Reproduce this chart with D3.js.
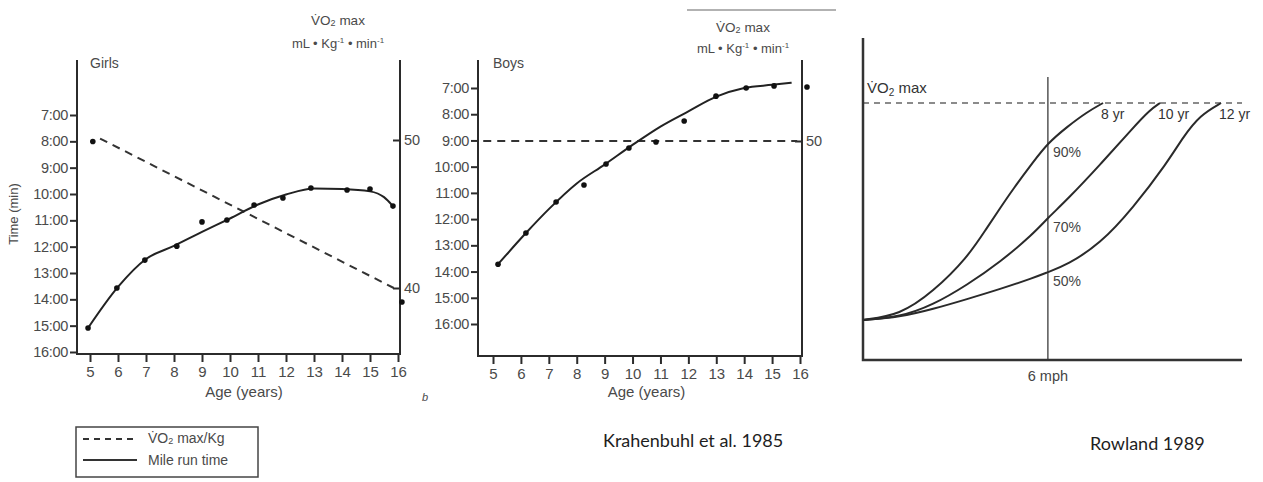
<!DOCTYPE html>
<meta charset="utf-8">
<style>
	body { margin: 0; background: #fff; }
	svg { font-family: "Liberation Sans", Arial, sans-serif; }
	.ax line { stroke: #2b2b2b; stroke-width: 2; }
	.ax text { fill: #4a4a4a; }
	.frame { stroke: #2b2b2b; stroke-width: 2; fill: none; }
	.lab { fill: #4a4a4a; }
	.note { fill: #1e1e1e; font-family: Lato, "Open Sans", sans-serif; font-size: 18px; }
</style>
<body>
<script src="https://d3js.org/d3.v7.min.js"></script>
<script>
// Krahenbuhl et al. 1985 - ages and time ticks
var ages = [5, 6, 7, 8, 9, 10, 11, 12, 13, 14, 15, 16];
var timeTicks = [7, 8, 9, 10, 11, 12, 13, 14, 15, 16];   // minutes

// girls: [age, mile run time in minutes]
var girlsTime = [[4.93, 15.09], [5.96, 13.57], [6.96, 12.51], [8.1, 11.98], [9.0, 11.06], [9.89, 10.99],
	[10.86, 10.42], [11.89, 10.15], [12.89, 9.77], [14.18, 9.85], [15.0, 9.81], [15.82, 10.46]];
var girlsFit = [[4.93, 15.09], [6, 13.53], [7, 12.47], [8, 11.97], [9, 11.44], [10, 10.93],
	[11, 10.4], [12, 10.02], [13, 9.79], [14, 9.81], [15, 9.9], [15.5, 10.12], [15.82, 10.46]];
// girls VO2max/kg (right axis)
var girlsVO2 = [[5.36, 50.1], [15.85, 40.0]];
var girlsVO2Pts = [[5.1, 49.9], [16.14, 39.05]];

// boys
var boysTime = [[5.18, 13.72], [6.18, 12.53], [7.26, 11.35], [8.26, 10.7], [9.05, 9.9], [9.87, 9.29],
	[10.84, 9.06], [11.85, 8.26], [12.99, 7.31], [14.07, 7.0], [15.07, 6.92], [16.25, 6.96]];
var boysFit = [[5.18, 13.72], [6.18, 12.53], [7, 11.62], [8, 10.64], [9, 9.92], [10, 9.17],
	[11, 8.47], [12, 7.89], [13, 7.33], [14, 7.0], [15, 6.88], [15.7, 6.8]];
var boysVO2 = [[4.65, 50], [15.9, 50]];

// Rowland 1989: [speed mph, % of VO2max]
var curve8 = [[0, 15.6], [1.2, 17.5], [2.27, 26.5], [3.38, 39.7], [4.02, 51.4], [4.45, 59.1], [4.87, 66.5],
	[5.52, 77.0], [6.0, 84.4], [6.62, 90.7], [7.27, 96.5], [7.79, 100]];
var curve10 = [[0, 15.6], [1.2, 16.7], [2.27, 21.4], [3.38, 29.2], [4.45, 38.1], [5.52, 49.0], [6.0, 55.3],
	[6.62, 62.3], [7.69, 75.9], [8.76, 90.3], [9.31, 97.3], [9.64, 100]];
var curve12 = [[0, 15.6], [1.2, 16.7], [2.27, 19.8], [3.38, 23.7], [4.45, 27.6], [5.52, 31.9], [6.0, 34.2],
	[6.62, 37.0], [7.69, 45.1], [8.76, 59.1], [9.87, 76.7], [10.39, 86.8], [10.94, 95.3], [11.62, 100]];
var curveNames = ["8 yr", "10 yr", "12 yr"];
var pctNames = ["90%", "70%", "50%"];
var refSpeed = 6;

var W = 1263, H = 482;
var svg = d3.select("body").append("svg").attr("width", W).attr("height", H);

// scan artefact line at top
svg.append("line").attr("x1", 687).attr("x2", 836).attr("y1", 10).attr("y2", 10)
	.attr("stroke", "#999").attr("stroke-width", 1.5);

function vo2Title(g, cx, y1, y2) {
	var t = g.append("text").attr("class", "lab").attr("x", cx).attr("y", y1)
		.attr("text-anchor", "middle").attr("dominant-baseline", "middle").style("font-size", "13.5px");
	t.append("tspan").text("V\u0307O");
	t.append("tspan").attr("dy", 3).style("font-size", "9px").text("2");
	t.append("tspan").attr("dy", -3).text(" max");
	var u = g.append("text").attr("class", "lab").attr("x", cx).attr("y", y2)
		.attr("text-anchor", "middle").attr("dominant-baseline", "middle").style("font-size", "13px");
	u.append("tspan").text("mL \u2022 Kg");
	u.append("tspan").attr("dy", -4).style("font-size", "8px").text("-1");
	u.append("tspan").attr("dy", 4).text(" \u2022 min");
	u.append("tspan").attr("dy", -4).style("font-size", "8px").text("-1");
}

function panel(p) {
	var g = svg.append("g");
	var x = d3.scaleLinear().domain([5, 16]).range(p.xr);
	var y = d3.scaleLinear().domain([7, 16]).range(p.yr);
	var v = d3.scaleLinear().domain([40, 50]).range(p.vr);

	// frame
	g.append("path").attr("class", "frame")
		.attr("d", "M" + p.left + "," + p.top + "V" + p.bottom + "H" + p.right + "V" + p.top);

	var ya = g.append("g").attr("class", "ax").attr("transform", "translate(" + p.left + ",0)")
		.call(d3.axisLeft(y).tickValues(timeTicks).tickFormat(function(d) { return d + ":00"; })
			.tickSize(7).tickPadding(2));
	ya.select(".domain").remove();
	ya.selectAll("text").style("font-size", "14.5px").style("letter-spacing", "-0.3px");

	var xa = g.append("g").attr("class", "ax").attr("transform", "translate(0," + p.bottom + ")")
		.call(d3.axisBottom(x).tickValues(ages).tickSize(8).tickPadding(4));
	xa.select(".domain").remove();
	xa.selectAll("text").style("font-size", "15px");

	var va = g.append("g").attr("class", "ax").attr("transform", "translate(" + p.right + ",0)")
		.call(d3.axisRight(v).tickValues(p.vTicks).tickSizeInner(-7).tickSizeOuter(0).tickPadding(4));
	va.select(".domain").remove();
	va.selectAll("text").style("font-size", "14.5px");

	g.append("text").attr("class", "lab").attr("x", p.xr[0]).attr("y", 64)
		.attr("dominant-baseline", "middle").style("font-size", "14px").text(p.name);
	g.append("text").attr("class", "lab").attr("x", (p.xr[0] + p.xr[1]) / 2).attr("y", 393)
		.attr("text-anchor", "middle").attr("dominant-baseline", "middle").style("font-size", "15px")
		.text("Age (years)");
	vo2Title(g, p.titleX, p.titleY[0], p.titleY[1]);

	g.append("path").datum(p.vo2)
		.attr("fill", "none").attr("stroke", "#333").attr("stroke-width", 2).attr("stroke-dasharray", "8,6")
		.attr("d", d3.line().x(function(d) { return x(d[0]); }).y(function(d) { return v(d[1]); }));
	g.append("path").datum(p.fit)
		.attr("fill", "none").attr("stroke", "#222").attr("stroke-width", 2)
		.attr("d", d3.line().curve(d3.curveMonotoneX).x(function(d) { return x(d[0]); }).y(function(d) { return y(d[1]); }));
	g.selectAll(".pt").data(p.pts).enter().append("circle")
		.attr("cx", function(d) { return x(d[0]); }).attr("cy", function(d) { return y(d[1]); })
		.attr("r", 2.8).attr("fill", "#111");
	g.selectAll(".vp").data(p.vpts).enter().append("circle")
		.attr("cx", function(d) { return x(d[0]); }).attr("cy", function(d) { return v(d[1]); })
		.attr("r", 2.8).attr("fill", "#111");
	return g;
}

var girls = panel({
	name: "Girls", xr: [90, 398], yr: [115, 352], vr: [288, 140], vTicks: [40, 50],
	left: 77, right: 400, top: 60, bottom: 354, titleX: 338, titleY: [21, 45],
	pts: girlsTime, fit: girlsFit, vo2: girlsVO2, vpts: girlsVO2Pts
});
girls.append("text").attr("class", "lab")
	.attr("transform", "rotate(-90,15,214)").attr("x", 15).attr("y", 214).attr("text-anchor", "middle")
	.attr("dominant-baseline", "middle").style("font-size", "13px").text("Time (min)");
girls.append("text").attr("x", 425).attr("y", 398).attr("class", "lab").attr("text-anchor", "middle")
	.attr("dominant-baseline", "middle").style("font-size", "11px").style("font-style", "italic").text("b");

panel({
	name: "Boys", xr: [493, 800], yr: [88, 324], vr: [289, 141], vTicks: [50],
	left: 478, right: 802, top: 60, bottom: 356, titleX: 743, titleY: [28, 50],
	pts: boysTime, fit: boysFit, vo2: boysVO2, vpts: []
});

// legend
var lg = svg.append("g");
lg.append("rect").attr("x", 76).attr("y", 427).attr("width", 182).attr("height", 50)
	.attr("fill", "none").attr("stroke", "#444").attr("stroke-width", 1.5);
lg.append("line").attr("x1", 83).attr("x2", 137).attr("y1", 439).attr("y2", 439)
	.attr("stroke", "#333").attr("stroke-width", 1.8).attr("stroke-dasharray", "6,5");
lg.append("line").attr("x1", 83).attr("x2", 137).attr("y1", 460).attr("y2", 460)
	.attr("stroke", "#333").attr("stroke-width", 1.8);
var lt = lg.append("text").attr("class", "lab").attr("x", 148).attr("y", 439)
	.attr("dominant-baseline", "middle").style("font-size", "14px");
lt.append("tspan").text("V\u0307O");
lt.append("tspan").attr("dy", 3).style("font-size", "9px").text("2");
lt.append("tspan").attr("dy", -3).text(" max/Kg");
lg.append("text").attr("class", "lab").attr("x", 148).attr("y", 461)
	.attr("dominant-baseline", "middle").style("font-size", "14px").text("Mile run time");

svg.append("text").attr("class", "note").attr("x", 603).attr("y", 442)
	.attr("dominant-baseline", "middle").text("Krahenbuhl et al. 1985");

// Rowland panel
var r = svg.append("g");
var sx = d3.scaleLinear().domain([0, 12.3]).range([863, 1242]);
var sy = d3.scaleLinear().domain([0, 100]).range([360, 103]);
var rline = d3.line().curve(d3.curveBasis).x(function(d) { return sx(d[0]); }).y(function(d) { return sy(d[1]); });

r.append("line").attr("x1", sx(0)).attr("x2", sx(12.3)).attr("y1", sy(100)).attr("y2", sy(100))
	.attr("stroke", "#666").attr("stroke-width", 1.5).attr("stroke-dasharray", "6,5");
r.append("line").attr("x1", sx(refSpeed)).attr("x2", sx(refSpeed)).attr("y1", 77).attr("y2", sy(0))
	.attr("stroke", "#555").attr("stroke-width", 1.5);
r.append("path").attr("fill", "none").attr("stroke", "#333").attr("stroke-width", 2.5)
	.attr("d", "M" + sx(0) + ",38V" + sy(0) + "H" + sx(12.3));

[curve8, curve10, curve12].forEach(function(c, i) {
	r.append("path").datum(c).attr("fill", "none").attr("stroke", "#2a2a2a").attr("stroke-width", 2).attr("d", rline);
	r.append("text").attr("class", "lab").attr("x", sx(c[c.length - 1][0]) - 2).attr("y", 115)
		.attr("dominant-baseline", "middle").style("font-size", "14px").style("fill", "#333").text(curveNames[i]);
	var at = c.filter(function(d) { return d[0] <= refSpeed; });
	var a = at[at.length - 1], b = c[at.length];
	var val = a[1] + (b[1] - a[1]) * (refSpeed - a[0]) / (b[0] - a[0]);
	r.append("text").attr("class", "lab").attr("x", sx(refSpeed) + 5).attr("y", sy(val) + 10)
		.attr("dominant-baseline", "middle").style("font-size", "14px").style("fill", "#444").text(pctNames[i]);
});

var rt = r.append("text").attr("x", 867).attr("y", 89).attr("dominant-baseline", "middle")
	.style("font-size", "15px").style("fill", "#333");
rt.append("tspan").text("V\u0307O");
rt.append("tspan").attr("dy", 4).style("font-size", "10px").text("2");
rt.append("tspan").attr("dy", -4).text(" max");
r.append("text").attr("x", sx(refSpeed)).attr("y", 377).attr("text-anchor", "middle")
	.attr("dominant-baseline", "middle").style("font-size", "14.5px").style("fill", "#444").text("6 mph");

svg.append("text").attr("class", "note").attr("x", 1090).attr("y", 445)
	.attr("dominant-baseline", "middle").text("Rowland 1989");
</script>
